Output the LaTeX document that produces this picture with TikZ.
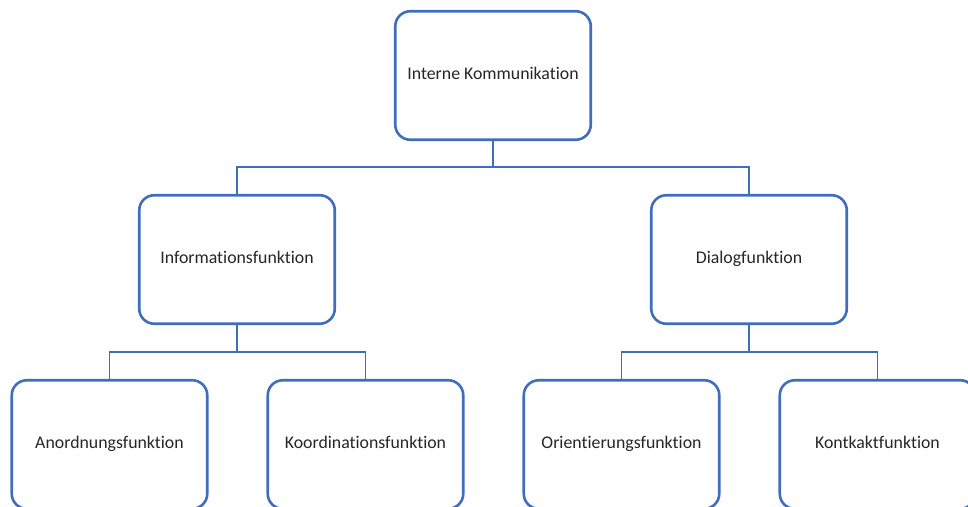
\documentclass[tikz,border=0pt]{standalone}
\usepackage{fontspec}
\setmainfont[RawFeature={-liga}]{Carlito}
\definecolor{boxblue}{RGB}{64,110,190}
\begin{document}
\begin{tikzpicture}[x=1pt,y=-1pt,
  box/.style={draw=boxblue, line width=2.6pt, rounded corners=15pt, fill=white,
    minimum width=195.5pt, minimum height=128.5pt, inner sep=0pt,
    text height=12pt, text depth=4pt,
    font=\fontsize{17.8}{21}\selectfont, text=black!85},
  conn/.style={draw=boxblue, line width=1.6pt}]
\useasboundingbox (0,0) rectangle (968,506);
\clip (0,0) rectangle (968,506);
\node[box] (top) at (493,75.5) {Interne Kommunikation};
\node[box] (m1) at (237,259.5) {Informationsfunktion};
\node[box] (m2) at (749,259.5) {Dialogfunktion};
\node[box] (b1) at (109.5,444.5) {Anordnungsfunktion};
\node[box] (b2) at (365.5,444.5) {Koordinationsfunktion};
\node[box] (b3) at (621.5,444.5) {Orientierungsfunktion};
\node[box] (b4) at (877.5,444.5) {Kontkaktfunktion};
\coordinate (j0) at (493,167);
\coordinate (j1) at (237,352);
\coordinate (j2) at (749,352);
\draw[conn] (top.south) -- (j0) -| (m1.north);
\draw[conn] (j0) -| (m2.north);
\draw[conn] (m1.south) -- (j1) -| (b1.north);
\draw[conn] (j1) -| (b2.north);
\draw[conn] (m2.south) -- (j2) -| (b3.north);
\draw[conn] (j2) -| (b4.north);
\end{tikzpicture}
\end{document}
